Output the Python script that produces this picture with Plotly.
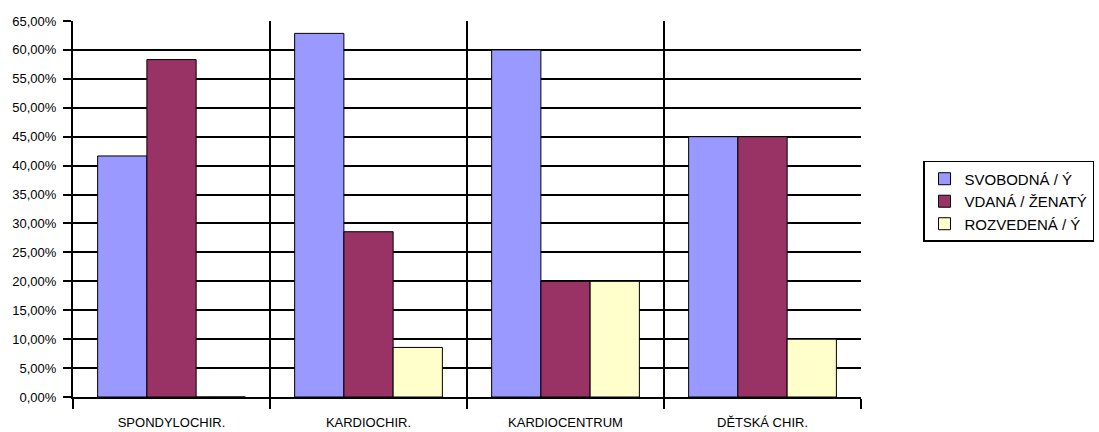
import plotly.graph_objects as go

categories = ["SPONDYLOCHIR.", "KARDIOCHIR.", "KARDIOCENTRUM", "DĚTSKÁ CHIR."]
series_names = ["SVOBODNÁ / Ý", "VDANÁ / ŽENATÝ", "ROZVEDENÁ / Ý"]
svobodna = [0.4167, 0.6286, 0.60, 0.45]
vdana = [0.5833, 0.2857, 0.20, 0.45]
rozvedena = [0.0, 0.0857, 0.20, 0.10]
colors = ["#9999FF", "#993366", "#FFFFCC"]
y_ticks = [i * 0.05 for i in range(14)]
y_tick_text = [f"{v*100:.2f}%".replace(".", ",") for v in y_ticks]

fig = go.Figure()
for name, vals, col in zip(series_names, [svobodna, vdana, rozvedena], colors):
    fig.add_trace(go.Bar(
        x=categories, y=vals, name=name,
        marker=dict(color=col, line=dict(color="black", width=1)),
    ))

fig.update_layout(
    width=1099, height=432,
    margin=dict(l=73, r=238, t=21, b=35, autoexpand=False),
    paper_bgcolor="white", plot_bgcolor="white",
    barmode="group", bargap=0.25, bargroupgap=0,
    font=dict(family="Liberation Sans, Arial, sans-serif", color="black"),
    showlegend=True,
    legend=dict(
        x=1.0787, y=0.52, xanchor="left", yanchor="middle",
        bordercolor="black", borderwidth=1.5, bgcolor="white",
        font=dict(size=15, color="black"),
        itemwidth=30, traceorder="normal",
    ),
)
fig.update_yaxes(
    range=[0, 0.65], tickvals=y_ticks, ticktext=y_tick_text,
    showgrid=True, gridcolor="black", gridwidth=2,
    showline=True, linecolor="black", linewidth=2,
    ticks="outside", ticklen=8, tickcolor="black", tickwidth=1.5,
    ticklabelstandoff=4, automargin=False,
    tickfont=dict(size=13, color="black"), zeroline=False,
)
fig.update_xaxes(
    tickson="boundaries", showgrid=True, gridcolor="black", gridwidth=1.5,
    showline=True, linecolor="black", linewidth=2,
    ticks="outside", ticklen=10, tickcolor="black", tickwidth=1.5,
    ticklabelstandoff=12, automargin=False,
    tickfont=dict(size=13, color="black"),
)

fig.write_html("out.html")
